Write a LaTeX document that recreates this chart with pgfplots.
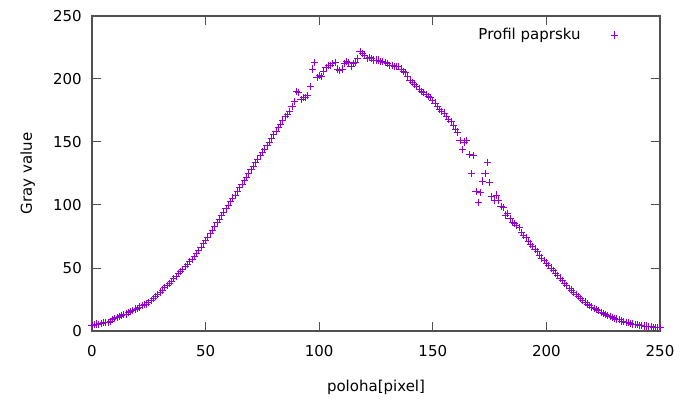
\documentclass[border=0pt]{standalone}
\usepackage{fontspec}
\setmainfont{DejaVu Sans}
\usepackage{pgfplots}
\pgfplotsset{compat=1.18}
\definecolor{gpviolet}{RGB}{148,0,211}
\definecolor{axgray}{RGB}{80,80,80}
\pgfplotstableread{
x y
0 4.5
1 5
2 5.5
3 5
4 6
5 6.5
6 7
7 6.5
8 7.5
9 9
10 10
11 10.5
12 11.5
13 12
14 13
15 13.5
16 14.5
17 15.5
18 16
19 17.5
20 18
21 19
22 20
23 21
24 21.5
25 22.5
26 24.5
27 26
28 27.5
29 29
30 31
31 32.5
32 34.5
33 36
34 38
35 39.5
36 41.5
37 43
38 45.5
39 47
40 49
41 51
42 53
43 55
44 57
45 59
46 61.5
47 64
48 66.5
49 69.5
50 72
51 74.5
52 77.5
53 80
54 83
55 86
56 88.5
57 91.5
58 94
59 97
60 100
61 102.5
62 105.5
63 108
64 111
65 114
66 116.5
67 119.5
68 122
69 125
70 128
71 130.5
72 133.5
73 136
74 139
75 142
76 144.5
77 147.5
78 150
79 153
80 156
81 158.5
82 161.5
83 164
84 167
85 170
86 172
87 174.5
88 178
89 182
90 190
91 189
92 184
93 185
94 185
95 187
96 194
97 208
98 213
99 201
100 203
101 202
102 206
103 209
104 211
105 211
106 212
107 213
108 208
109 207
110 208
111 212
112 214
113 213
114 210
115 212
116 213
117 216
118 222
119 220
120 219
121 216
122 217
123 216
124 215
125 215
126 215
127 214
128 214
129 213
130 212
131 211
132 211
133 210
134 210
135 210
136 208
137 206
138 205
139 202
140 199
141 197
142 196
143 194
144 192
145 190
146 189
147 188
148 186
149 185
150 183
151 181
152 178
153 176
154 174
155 173
156 170
157 168
158 166
159 163
160 160
161 158
162 151
163 144
164 150
165 151
166 140
167 125
168 139
169 111
170 102
171 110
172 119
173 125
174 134
175 118
176 107
177 104
178 108
179 104
180 99
181 98
182 92
183 93
184 89
185 86
186 85
187 84
188 82
189 78
190 76
191 74
192 71
193 69
194 67
195 65
196 63
197 60
198 58
199 56
200 54
201 52
202 50
203 48
204 46
205 44
206 42
207 40
208 38
209 36
210 34
211 32.5
212 31
213 29
214 27.5
215 26
216 24.5
217 23
218 21.5
219 20
220 19
221 18
222 17
223 16
224 15
225 14
226 13
227 12
228 11.5
229 10.5
230 10
231 9.5
232 9
233 8
234 7.5
235 7
236 6.5
237 6
238 5.5
239 5
240 5
241 4.5
242 4.5
243 4
244 4
245 3.5
246 3.5
247 3
248 3
249 3
250 3
}\profile
\begin{document}
\fontsize{15bp}{18bp}\selectfont
\begin{tikzpicture}
\path[use as bounding box] (-92bp,-72bp) rectangle (602bp,331bp);
\begin{axis}[
  at={(0,0)}, anchor=south west,
  scale only axis,
  width=568bp, height=315bp,
  xmin=0, xmax=250, ymin=0, ymax=250,
  xtick={0,50,...,250}, ytick={0,50,...,250},
  tick align=inside,
  major tick length=9bp,
  tick style={axgray, line width=1bp},
  axis line style={axgray, line width=1.2bp},
  /pgf/number format/assume math mode=true,
  tick label style={font=\fontsize{15bp}{18bp}\selectfont},
  xticklabel style={yshift=-9bp},
  yticklabel style={xshift=-5bp},
  xlabel={poloha[pixel]},
  ylabel={Gray value},
  label style={font=\fontsize{15bp}{18bp}\selectfont},
  xlabel style={yshift=-13bp},
  ylabel style={yshift=8bp},
  legend style={draw=none, fill=none, at={(1,1)}, anchor=north east,
    xshift=-39bp, yshift=-8bp,
    font=\fontsize{15bp}{18bp}\selectfont, legend cell align=right},
  legend plot pos=right,
]
\addplot[only marks, mark=+, draw=gpviolet, color=gpviolet, mark size=3.6bp,
  mark options={draw=gpviolet, line width=0.8bp}] table[x=x,y=y] {\profile};
\addlegendentry{Profil paprsku\kern 28bp}
\end{axis}
\end{tikzpicture}
\end{document}
